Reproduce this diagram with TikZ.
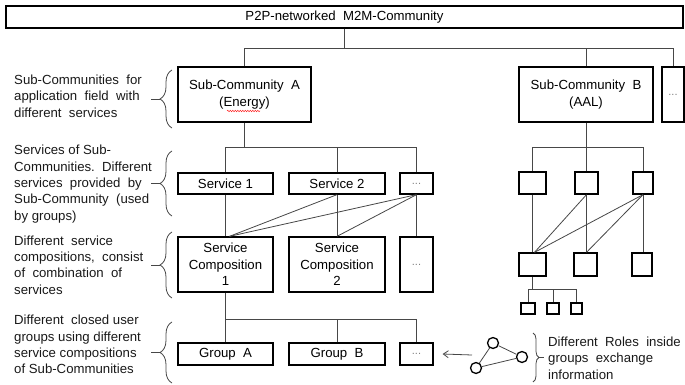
\documentclass[tikz,border=0pt]{standalone}
\usepackage{fontspec}
\setmainfont{Liberation Sans}
\usetikzlibrary{decorations.pathreplacing,decorations.pathmorphing,arrows.meta}
\newcommand\dfont{\fontsize{13.2pt}{16.3pt}\selectfont}
\newcommand\mydots{{\fontsize{11pt}{13pt}\selectfont\color{black!50}...}}
\begin{document}
\begin{tikzpicture}[x=1pt,y=-1pt,
  box/.style={draw=black,line width=1.3pt,inner sep=0pt,align=center,font=\dfont},
  conn/.style={draw=black!72,line width=0.8pt},
  lbl/.style={inner sep=0pt,align=left,anchor=west,font=\dfont,text=black!90},
  brc/.style={draw=black!72,line width=0.8pt,decorate,decoration={brace,amplitude=12pt}},
  rbrc/.style={draw=black!72,line width=0.8pt,decorate,decoration={brace,amplitude=6pt}},
  role/.style={draw=black,line width=1.3pt,circle,minimum size=11pt,inner sep=0pt}]
\useasboundingbox (0,0) rectangle (685,385);
% main boxes
\node[box,minimum width=677pt,minimum height=22pt] (top) at (344.5,17) {P2P-networked\ \ M2M-Community};
\node[box,minimum width=133pt,minimum height=55pt] (subA) at (244.5,94.5) {Sub-Community\ \ A\\(Energy)};
\node[box,minimum width=134pt,minimum height=55pt] (subB) at (586,94.5) {Sub-Community\ \ B\\(AAL)};
\node[box,minimum width=22pt,minimum height=55pt] (subD) at (673,94.5) {\mydots};
\node[box,minimum width=95pt,minimum height=21pt] (s1) at (225.5,183.5) {Service 1};
\node[box,minimum width=96pt,minimum height=21pt] (s2) at (337,183.5) {Service 2};
\node[box,minimum width=33pt,minimum height=21pt] (sd) at (416.5,183.5) {\mydots};
\node[box,minimum width=95pt,minimum height=55pt] (c1) at (225.5,264.5) {Service\\Composition\\1};
\node[box,minimum width=96pt,minimum height=55pt] (c2) at (337,264.5) {Service\\Composition\\2};
\node[box,minimum width=33pt,minimum height=55pt] (cd) at (416.5,264.5) {\mydots};
\node[box,minimum width=95pt,minimum height=22pt] (gA) at (225.5,354) {Group\ \ A};
\node[box,minimum width=96pt,minimum height=22pt] (gB) at (337,354) {Group\ \ B};
\node[box,minimum width=33pt,minimum height=22pt] (gd) at (416.5,354) {\mydots};
% red spell-check underline
\coordinate (e1) at (227,111);
\coordinate (e2) at (260,111);
\draw[red!85,line width=0.5pt,decorate,decoration={snake,amplitude=0.7pt,segment length=2.5pt}] (e1) -- (e2);
% right structure boxes
\node[box,minimum width=27pt,minimum height=22pt] (r1) at (532.5,183) {};
\node[box,minimum width=23pt,minimum height=22pt] (r2) at (586.5,183) {};
\node[box,minimum width=20pt,minimum height=22pt] (r3) at (643,183) {};
\node[box,minimum width=27pt,minimum height=23pt] (q1) at (532.5,264.5) {};
\node[box,minimum width=23pt,minimum height=23pt] (q2) at (585.5,264.5) {};
\node[box,minimum width=20pt,minimum height=23pt] (q3) at (642,264.5) {};
\node[box,line width=1.1pt,minimum width=14pt,minimum height=11pt] (t1) at (528,308.5) {};
\node[box,line width=1.1pt,minimum width=12pt,minimum height=11pt] (t2) at (553,308.5) {};
\node[box,line width=1.1pt,minimum width=11pt,minimum height=11pt] (t3) at (576.5,308.5) {};
% bus coordinates
\coordinate (b0) at (0,48);
\coordinate (b1) at (0,147);
\coordinate (b2) at (0,319);
\coordinate (b3) at (0,289);
% top level
\draw[conn] (top.south) -- (top.south |- b0);
\draw[conn] (subA.north) -- (subA.north |- b0) -- (subD.north |- b0) -- (subD.north);
\draw[conn] (subB.north) -- (subB.north |- b0);
% services of A
\draw[conn] (subA.south) -- (subA.south |- b1);
\draw[conn] (s1.north) -- (s1.north |- b1) -- (sd.north |- b1) -- (sd.north);
\draw[conn] (s2.north) -- (s2.north |- b1);
\draw[conn] (s1.south) -- (c1.north);
\draw[conn] (s2.south) -- (c2.north);
\draw[conn] (sd.south) -- (cd.north);
\draw[conn] (s2.south) -- ([xshift=4pt]c1.north);
\draw[conn] (sd.south) -- ([xshift=4pt]c1.north);
\draw[conn] (sd.south) -- (c2.north);
% groups
\draw[conn] (c1.south) -- (gA.north);
\draw[conn] (c1.south |- b2) -- (gd.north |- b2) -- (gd.north);
\draw[conn] (gB.north) -- (gB.north |- b2);
% right structure
\draw[conn] (subB.south) -- (subB.south |- b1);
\draw[conn] (r1.north) -- (r1.north |- b1) -- (r3.north |- b1) -- (r3.north);
\draw[conn] (r2.north) -- (r2.north |- b1);
\draw[conn] (r1.south) -- (q1.north);
\draw[conn] (r2.south) -- (r2.south |- q2.north);
\draw[conn] (r3.south) -- (r3.south |- q3.north);
\draw[conn] (r2.south) -- ([xshift=2pt]q1.north);
\draw[conn] (r3.south) -- ([xshift=2pt]q1.north);
\draw[conn] (r3.south) -- (r2.south |- q2.north);
\draw[conn] (q1.south) -- (q1.south |- b3);
\draw[conn] (t1.north) -- (t1.north |- b3) -- (t3.north |- b3) -- (t3.north);
\draw[conn] (t2.north) -- (t2.north |- b3);
% roles network
\node[role] (n1) at (493,343) {};
\node[role] (n2) at (522,357) {};
\node[role] (n3) at (476,368) {};
\draw[conn] (n1) -- (n2);
\draw[conn] (n1) -- (n3);
\draw[conn] (n3) -- (n2);
\coordinate (arrS) at (472,355);
\draw[conn,-{Straight Barb[length=5pt,width=7pt]}] (arrS) -- ([xshift=9pt]gd.east);
% left labels
\node[lbl] (l1) at (14,96) {Sub-Communities\ \ for\\application\ \ field\ \ with\\different\ \ services};
\node[lbl] (l2) at (14,184) {Services of Sub-\\Communities.\ \ Different\\services\ \ provided\ \ by\\Sub-Community\ \ (used\\by groups)};
\node[lbl] (l3) at (14,265) {Different\ \ service\\compositions,\ \ consist\\of\ \ combination\ \ of\\services};
\node[lbl] (l4) at (14,344.5) {Different\ \ closed user\\groups using different\\service compositions\\of Sub-Communities};
\node[lbl] (l5) at (548,358) {Different\ \ Roles\ \ inside\\groups\ \ exchange\\information};
% braces
\coordinate (k1a) at (172,128); \coordinate (k1b) at (172,70);
\coordinate (k2a) at (172,216); \coordinate (k2b) at (172,151);
\coordinate (k3a) at (172,298); \coordinate (k3b) at (172,232);
\coordinate (k4a) at (172,383); \coordinate (k4b) at (172,322);
\draw[brc] (k1a) -- (k1b);
\draw[brc] (k2a) -- (k2b);
\draw[brc] (k3a) -- (k3b);
\draw[brc] (k4a) -- (k4b);
\coordinate (d1) at (160,99); \draw[conn] (d1) -- ++(-9,0);
\coordinate (d2) at (160,183.5); \draw[conn] (d2) -- ++(-9,0);
\coordinate (d3) at (160,265); \draw[conn] (d3) -- ++(-9,0);
\coordinate (d4) at (160,352.5); \draw[conn] (d4) -- ++(-9,0);
\coordinate (k5a) at (533,333); \coordinate (k5b) at (533,382);
\draw[rbrc] (k5a) -- (k5b);
\coordinate (d5) at (539,357.5); \draw[conn] (d5) -- ++(5,0);
\end{tikzpicture}
\end{document}
